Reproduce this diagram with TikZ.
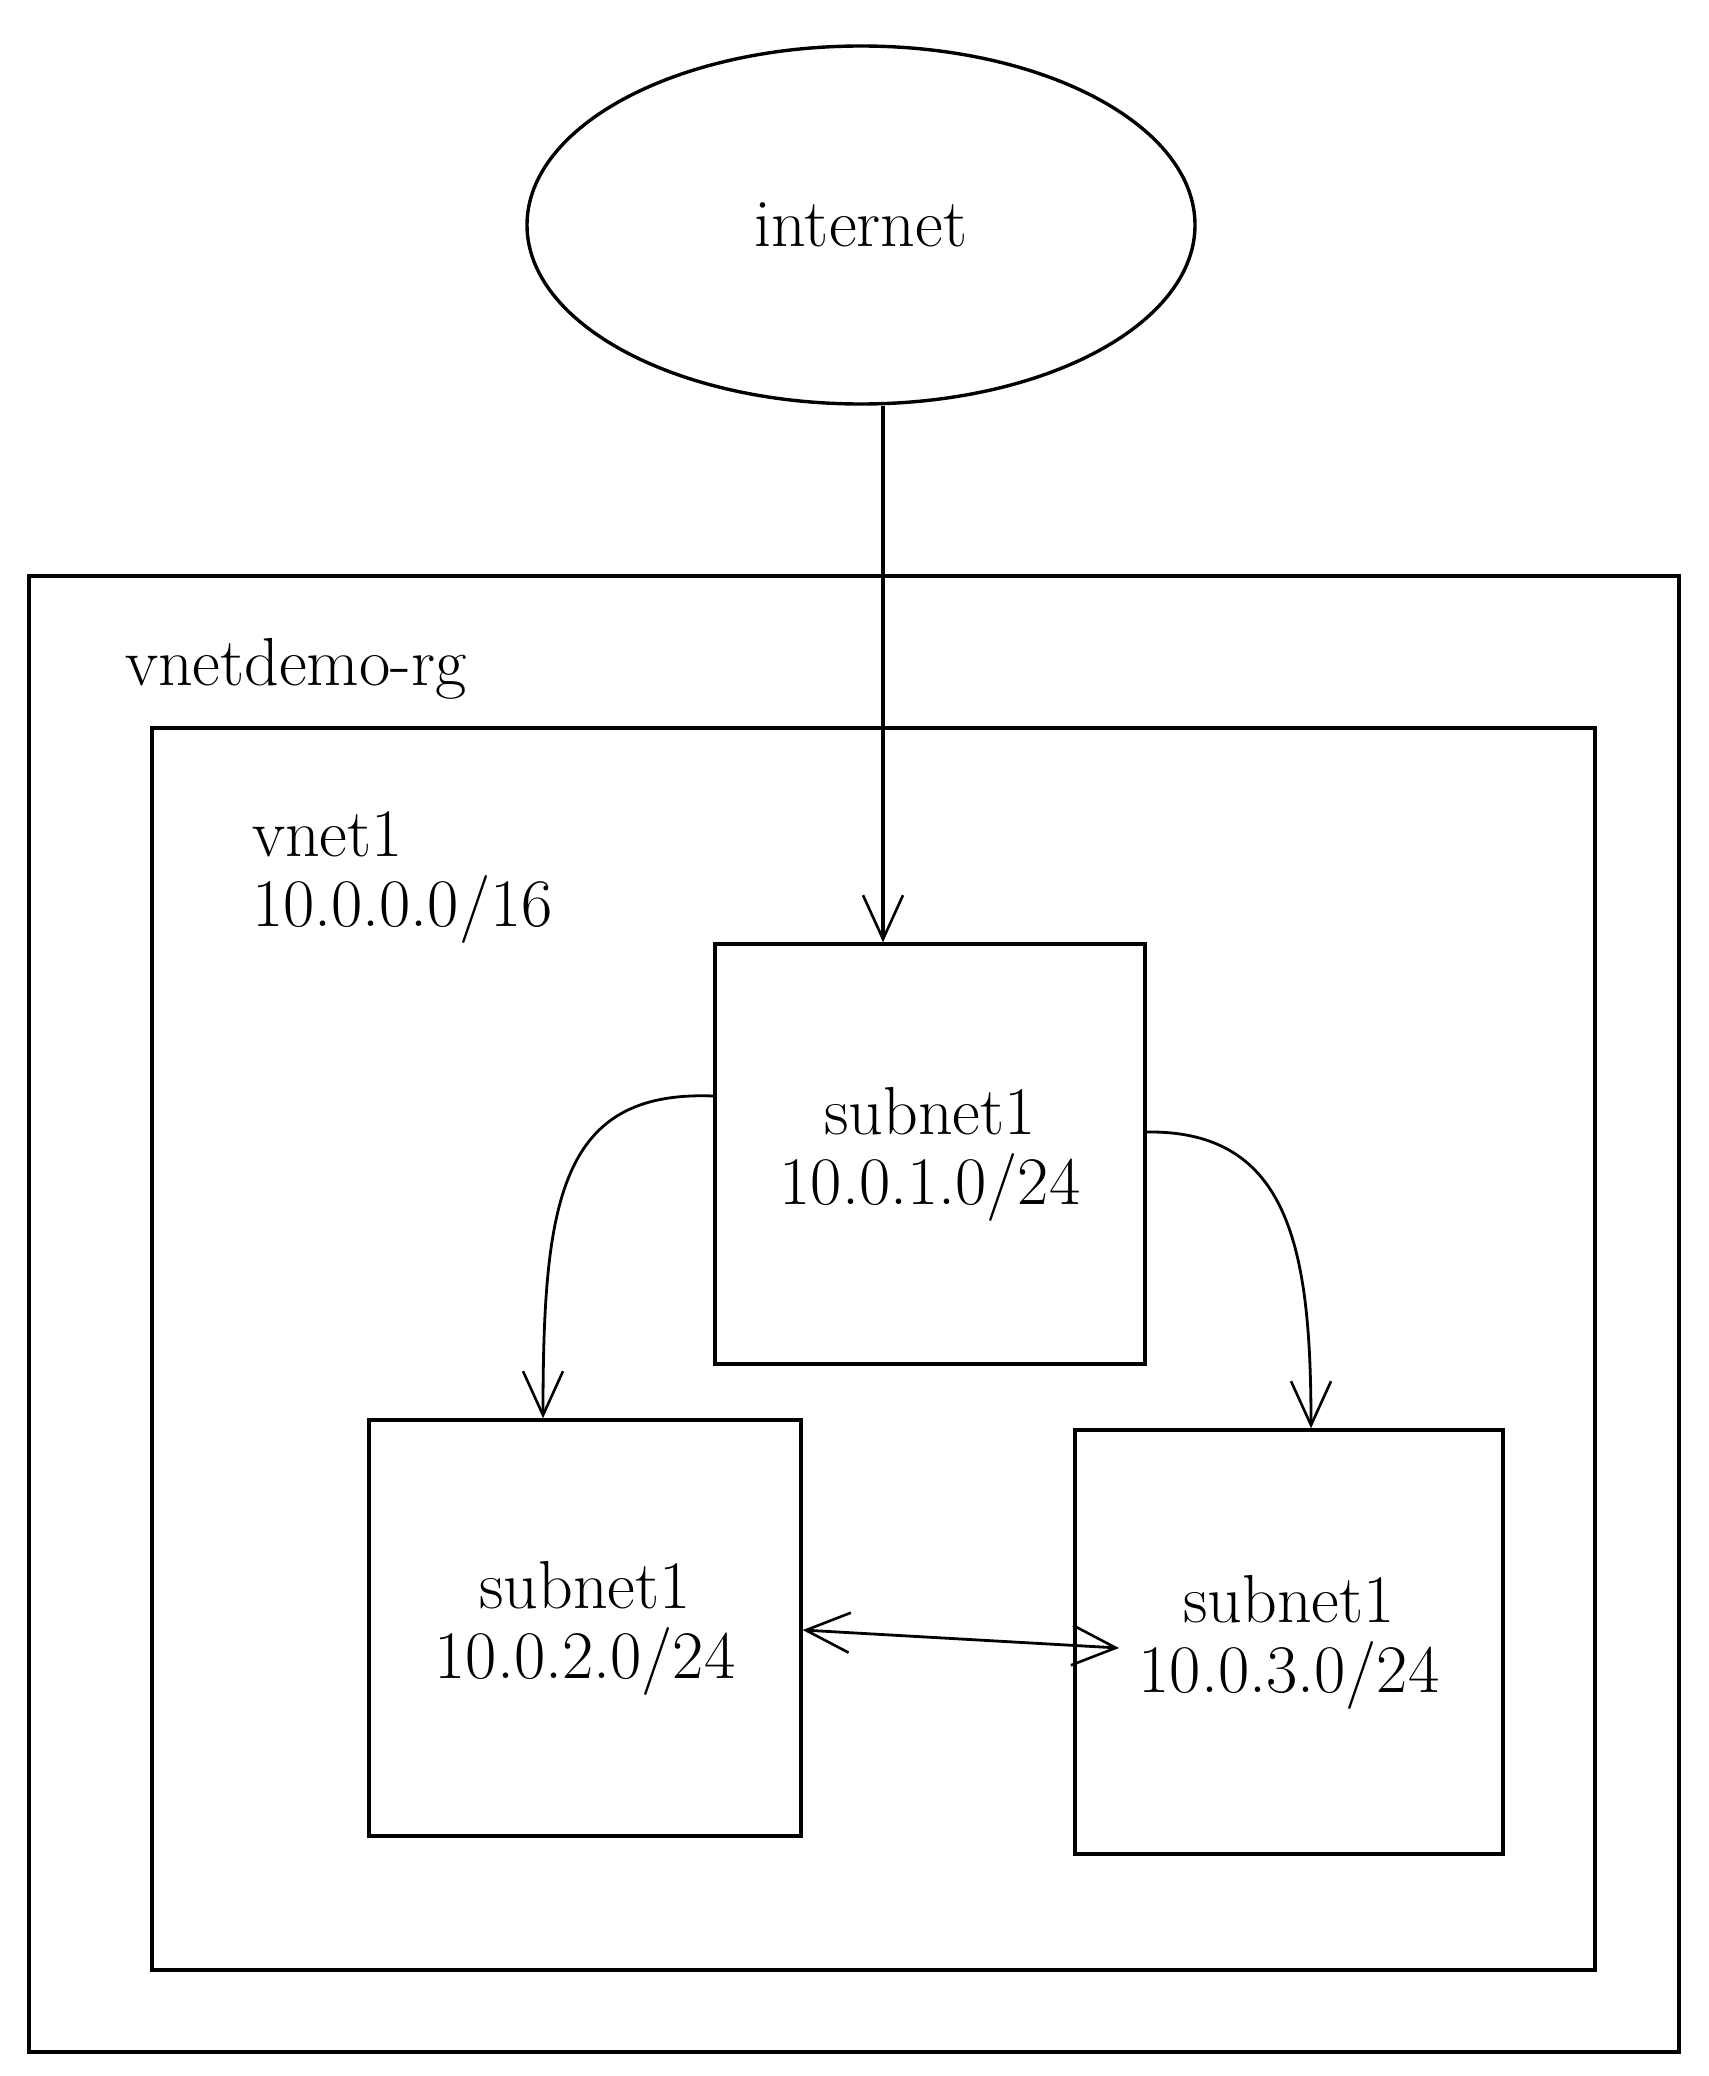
\documentclass[tikz,border=0pt]{standalone}
\usetikzlibrary{shapes.geometric,arrows.meta}
\tikzset{
  box/.style={draw,line width=1.7pt,minimum width=215pt,minimum height=210pt,align=center,font=\fontsize{34}{35}\selectfont},
  area/.style={draw,line width=1.7pt},
  lbl/.style={anchor=west,align=left,font=\fontsize{34}{35}\selectfont},
  link/.style={line width=1.4pt,-{Straight Barb[length=22pt,width=20pt,line width=1.3pt]}},
  twoway/.style={line width=1.4pt,{Straight Barb[length=22pt,width=20pt,line width=1.3pt]}-{Straight Barb[length=22pt,width=20pt,line width=1.3pt]}},
}
\begin{document}
\begin{tikzpicture}[x=0.5pt,y=-0.5pt]
		\useasboundingbox (0,0) rectangle (1708,2076);
		\draw[area](29,576) rectangle (1679,2052);
		\draw[area](152,728) rectangle (1595,1970);
		\node[lbl] (rg) at (118,669) {vnetdemo-rg};
		\node[lbl] (vnet) at (245,877) {vnet1\\10.0.0.0/16};
		\node[draw,ellipse,line width=1.7pt,minimum width=334pt,minimum height=179pt,font=\fontsize{34}{35}\selectfont] (inet) at (861,225) {internet};
		\node[box] (sub1) at (930,1154) {subnet1\\10.0.1.0/24};
		\node[box,minimum width=216pt,minimum height=208pt] (sub2) at (585,1628) {subnet1\\10.0.2.0/24};
		\node[box,minimum width=214pt,minimum height=212pt] (sub3) at (1289,1642) {subnet1\\10.0.3.0/24};
		\coordinate (tip3) at (1119,1648);
		\draw[link,line width=1.8pt](inet.south -| 883,0)--(sub1.north -| 883,0);
		\draw[link](sub1.west |- 0,1096) .. controls (560,1090) and (543,1200) .. (sub2.north -| 543,0);
		\draw[link](sub1.east |- 0,1132) .. controls (1290,1130) and (1311,1250) .. (sub3.north -| 1311,0);
		\draw[twoway](sub2.east |- 0,1630)--(tip3);
		\end{tikzpicture}
\end{document}
